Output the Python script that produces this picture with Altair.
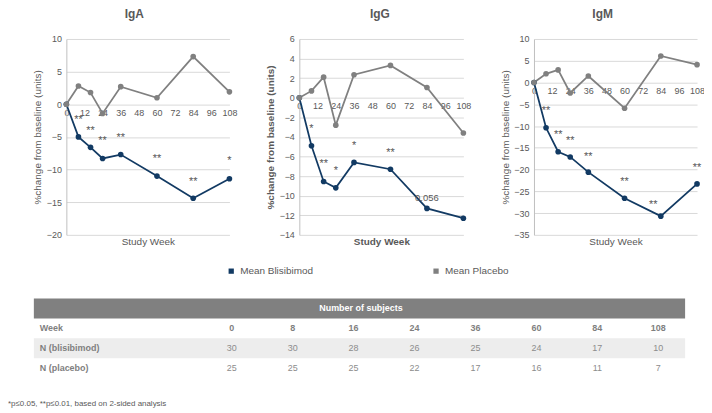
import altair as alt
import pandas as pd

# ---------------- data ----------------
weeks = [0, 8, 16, 24, 36, 60, 84, 108]
series_names = ["Mean Blisibimod", "Mean Placebo"]

iga_blis = [0, -5.0, -6.6, -8.3, -7.7, -11.0, -14.4, -11.4]
iga_plac = [0, 2.8, 1.8, -1.4, 2.7, 1.0, 7.3, 1.9]
igg_blis = [0, -4.9, -8.55, -9.2, -6.6, -7.3, -11.3, -12.3]
igg_plac = [0, 0.7, 2.1, -2.8, 2.35, 3.3, 1.05, -3.6]
igm_blis = [0, -10.4, -15.9, -17.1, -20.6, -26.6, -30.7, -23.3]
igm_plac = [0, 2.0, 2.9, -2.4, 1.5, -5.9, 6.1, 4.1]

iga_sig_weeks = [8, 16, 24, 36, 60, 84, 108]
iga_sig_y = [-2.8, -4.6, -6.1, -5.6, -8.9, -12.3, -9.1]
iga_sig_text = ["**", "**", "**", "**", "**", "**", "*"]

igg_sig_weeks = [8, 16, 24, 36, 60, 84]
igg_sig_y = [-3.5, -7.1, -7.8, -5.2, -5.9, -10.5]
igg_sig_text = ["*", "**", "*", "*", "**", "0.056"]

igm_sig_weeks = [8, 16, 24, 36, 60, 79, 108]
igm_sig_y = [-7.3, -12.7, -14.1, -17.7, -23.5, -28.9, -20.3]
igm_sig_text = ["**", "**", "**", "**", "**", "**", "**"]

table_weeks = ["0", "8", "16", "24", "36", "60", "84", "108"]
n_blis = [30, 30, 28, 26, 25, 24, 17, 10]
n_plac = [25, 25, 25, 22, 17, 16, 11, 7]
row_names = ["header", "Week", "N (blisibimod)", "N (placebo)"]
header_text = "Number of subjects"
footnote_text = "*p\u22640.05, **p\u22640.01, based on 2-sided analysis"
axis_y_title = "%change from baseline (units)"
axis_x_title = "Study Week"

# ---------------- layout / style ----------------
W, H = 700, 405
Y_TOP, Y_BOTTOM = 30, 227
STUDY_Y = 234
FONT = "Liberation Sans"
LABEL = "#595959"
NAVY = "#123a63"
GRAY = "#808080"
TABLE_X0, TABLE_X1 = 26, 681
TABLE_Y = [291, 371]
COL_RANGE = [225, 654]

color = alt.Color("series:N", scale=alt.Scale(domain=series_names, range=[NAVY, GRAY]), legend=None)


def panel(title, title_x, blis, plac, sig_w, sig_y, sig_t, ydom, ystep, xr, bold):
    rows = []
    for s, vals in zip(series_names, [blis, plac]):
        for w, v in zip(weeks, vals):
            rows.append({"week": w, "value": v, "series": s})
    df = pd.DataFrame(rows)
    y0 = Y_BOTTOM - (0 - ydom[0]) / (ydom[1] - ydom[0]) * (Y_BOTTOM - Y_TOP)
    weight = "bold" if bold else "normal"
    xs = alt.Scale(domain=[0, 108], range=xr, nice=False, zero=False)
    ys = alt.Scale(domain=ydom, range=[Y_BOTTOM, Y_TOP], nice=False, zero=False)
    xaxis = alt.Axis(orient="bottom", offset=y0 - H, values=list(range(0, 109, 12)),
                     domain=False, ticks=False, grid=False, labelFontSize=9, labelColor=LABEL,
                     labelPadding=4, labelFont=FONT, labelFlush=False, labelOverlap=False,
                     title=axis_x_title, titleX=(xr[0] + xr[1]) / 2, titleY=STUDY_Y - y0,
                     titleBaseline="middle", titleFontSize=10, titleFontWeight=weight,
                     titleColor=LABEL, titleFont=FONT)
    yaxis = alt.Axis(orient="left", offset=-xr[0], values=list(range(ydom[0], ydom[1] + 1, ystep)),
                     domainColor="#bfbfbf", domainWidth=1, ticks=False, grid=True,
                     gridColor="#d9d9d9", gridWidth=1, labelFontSize=9, labelColor=LABEL,
                     labelPadding=5, labelFont=FONT, labelFlush=False, labelOverlap=False,
                     title=axis_y_title, titleX=-29, titleY=(Y_BOTTOM + Y_TOP) / 2,
                     titleAngle=270, titleBaseline="middle", titleFontSize=10,
                     titleFontWeight=weight, titleColor=LABEL, titleFont=FONT)
    X = alt.X("week:Q", scale=xs, axis=xaxis)
    Y = alt.Y("value:Q", scale=ys, axis=yaxis)
    base = alt.Chart(df)
    line = base.mark_line(strokeWidth=1.75).encode(x=X, y=Y, color=color)
    pts = base.mark_circle(size=32, opacity=1).encode(x=X, y=Y, color=color)
    sig_df = pd.DataFrame({"week": sig_w, "value": sig_y, "label": sig_t})
    sig = alt.Chart(sig_df).mark_text(color=LABEL, baseline="alphabetic", font=FONT).encode(
        x=X, y=Y, text="label:N",
        size=alt.condition("length(datum.label) > 2", alt.value(9.5), alt.value(11)))
    ttl = alt.Chart(pd.DataFrame({"t": [title]})).mark_text(
        fontSize=12, fontWeight="bold", color=LABEL, font=FONT, baseline="alphabetic").encode(
        x=alt.value(title_x), y=alt.value(9), text="t:N")
    return alt.layer(line, pts, sig, ttl)


pA = panel("IgA", 127, iga_blis, iga_plac, iga_sig_weeks, iga_sig_y, iga_sig_text, [-20, 10], 5, [58.7, 222.7], False)
pG = panel("IgG", 374, igg_blis, igg_plac, igg_sig_weeks, igg_sig_y, igg_sig_text, [-14, 6], 2, [293, 458], True)
pM = panel("IgM", 598, igm_blis, igm_plac, igm_sig_weeks, igm_sig_y, igm_sig_text, [-35, 10], 5, [529, 693], False)

# ---------------- legend ----------------
leg_df = pd.DataFrame({"series": series_names})
leg_x = alt.X("series:N", scale=alt.Scale(domain=series_names, range=[224.5, 430.5], padding=0), axis=None)
leg_sq = alt.Chart(leg_df).mark_square(size=28, opacity=1).encode(x=leg_x, y=alt.value(263.5), color=color)
leg_tx = alt.Chart(leg_df).mark_text(align="left", baseline="middle", dx=9, fontSize=10, color=LABEL, font=FONT).encode(
    x=leg_x, y=alt.value(263.5), text="series:N")
legend = alt.layer(leg_sq, leg_tx)

# ---------------- table ----------------
row_scale = alt.Scale(domain=row_names, range=TABLE_Y, paddingInner=0, paddingOuter=0)
col_scale = alt.Scale(domain=table_weeks, range=COL_RANGE, padding=0)

hdr_bg = alt.Chart(pd.DataFrame({"row": ["header"]})).mark_rect(color="#808080").encode(
    x=alt.value(TABLE_X0), x2=alt.value(TABLE_X1), y=alt.Y("row:N", scale=row_scale, axis=None))
band_bg = alt.Chart(pd.DataFrame({"row": ["N (blisibimod)"]})).mark_rect(color="#ededed").encode(
    x=alt.value(TABLE_X0), x2=alt.value(TABLE_X1), y=alt.Y("row:N", scale=row_scale, axis=None))
hdr_tx = alt.Chart(pd.DataFrame({"row": ["header"], "t": [header_text]})).mark_text(
    color="white", fontWeight="bold", fontSize=9, font=FONT).encode(
    x=alt.value(355), y=alt.Y("row:N", scale=row_scale, axis=None), text="t:N")
lab_tx = alt.Chart(pd.DataFrame({"row": row_names[1:]})).mark_text(
    align="left", color="#7f7f7f", fontWeight="bold", fontSize=9, font=FONT).encode(
    x=alt.value(32), y=alt.Y("row:N", scale=row_scale, axis=None), text="row:N")

week_df = pd.DataFrame({"row": ["Week"] * len(table_weeks), "col": table_weeks, "v": table_weeks})
week_tx = alt.Chart(week_df).mark_text(color="#7f7f7f", fontWeight="bold", fontSize=9, font=FONT).encode(
    x=alt.X("col:N", scale=col_scale, axis=None), y=alt.Y("row:N", scale=row_scale, axis=None), text="v:N")

n_rows = []
for c, a, b in zip(table_weeks, n_blis, n_plac):
    n_rows.append({"row": "N (blisibimod)", "col": c, "v": str(a)})
    n_rows.append({"row": "N (placebo)", "col": c, "v": str(b)})
n_tx = alt.Chart(pd.DataFrame(n_rows)).mark_text(color="#8c8c8c", fontSize=9, font=FONT).encode(
    x=alt.X("col:N", scale=col_scale, axis=None), y=alt.Y("row:N", scale=row_scale, axis=None), text="v:N")

table = alt.layer(hdr_bg, band_bg, hdr_tx, lab_tx, week_tx, n_tx)

# ---------------- footnote ----------------
foot = alt.Chart(pd.DataFrame({"t": [footnote_text]})).mark_text(
    align="left", baseline="middle", fontSize=8, color=LABEL, font=FONT).encode(
    x=alt.value(0), y=alt.value(397), text="t:N")

chart = alt.layer(pA, pG, pM, legend, table, foot).resolve_scale(
    x="independent", y="independent").properties(
    width=W, height=H, autosize=alt.AutoSizeParams(type="none"), padding=0
).configure_view(stroke=None)

chart.save("out.html", embed_options={"renderer": "svg", "actions": False})
